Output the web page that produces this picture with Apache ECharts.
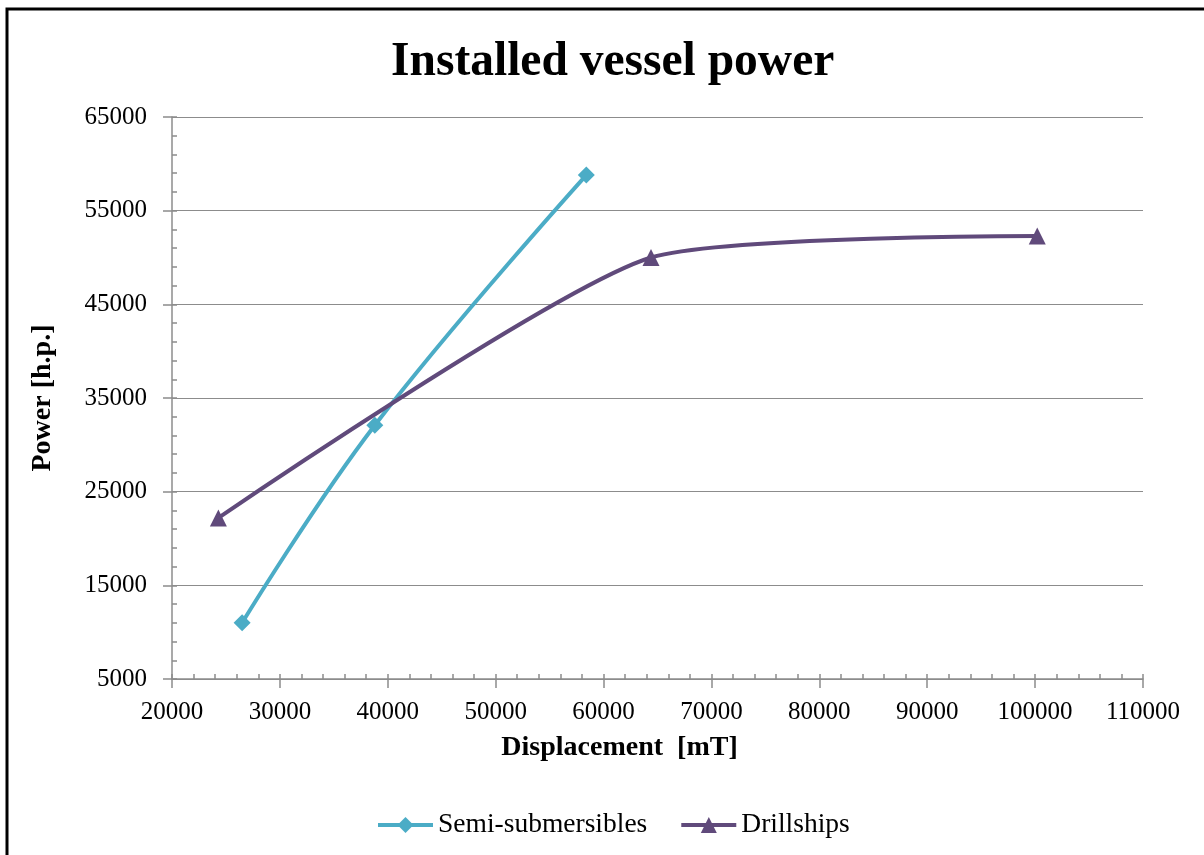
<!DOCTYPE html>
<html>
<head>
<meta charset="utf-8">
<script src="https://cdn.jsdelivr.net/npm/echarts@6/dist/echarts.min.js"></script>
<style>
  html, body { margin: 0; padding: 0; background: #fff; }
  #chart { width: 1204px; height: 855px; }
</style>
</head>
<body>
<div id="chart"></div>
<script>
// Displacement [mT] and installed power [h.p.] for each vessel type
const semiDisplacement = [26500, 38800, 58400];
const semiPower = [11000, 32100, 58800];
const drillDisplacement = [24300, 64400, 100200];
const drillPower = [22200, 50000, 52300];

const xTicks = { min: 20000, max: 110000, step: 10000, minorStep: 2000 };
const yTicks = { min: 5000, max: 65000, step: 10000, minorStep: 2000 };

const pairs = (xs, ys) => xs.map((x, i) => [x, ys[i]]);

const serif = 'Liberation Serif';
const gray = '#8c8c8c';
const plain = v => String(v);

const chart = echarts.init(document.getElementById('chart'));
chart.setOption({
  animation: false,
  backgroundColor: '#fff',
  title: {
    text: 'Installed vessel power',
    left: 386,
    top: 34,
    textStyle: { fontFamily: serif, fontSize: 47.5, fontWeight: 'bold', color: '#000' }
  },
  graphic: [{
    type: 'rect',
    shape: { x: 7, y: 9, width: 1400, height: 1000 },
    style: { fill: 'none', stroke: '#000', lineWidth: 3 },
    silent: true
  }],
  grid: { left: 172, right: 61, top: 117, bottom: 176 },
  legend: {
    bottom: 11,
    left: 371,
    itemWidth: 55,
    itemHeight: 20,
    itemGap: 32,
    lineStyle: { width: 4 },
    textStyle: { fontFamily: serif, fontSize: 27.5, color: '#000' },
    data: ['Semi-submersibles', 'Drillships']
  },
  xAxis: [{
    type: 'value',
    min: xTicks.min, max: xTicks.max, interval: xTicks.step,
    name: 'Displacement  [mT]',
    nameLocation: 'middle',
    nameGap: 55,
    nameTextStyle: { fontFamily: serif, fontSize: 28, fontWeight: 'bold', color: '#000', padding: [0, 76, 0, 0] },
    axisLine: { show: true, lineStyle: { color: gray, width: 1.5 } },
    axisTick: { show: true, inside: false, length: 9, lineStyle: { color: gray, width: 1.5 } },
    axisLabel: { fontFamily: serif, fontSize: 25, color: '#000', margin: 21, formatter: plain },
    splitLine: { show: false }
  }, {
    type: 'value',
    position: 'bottom',
    min: xTicks.min, max: xTicks.max, interval: xTicks.minorStep,
    axisLine: { show: false },
    axisTick: { show: true, inside: true, length: 5, lineStyle: { color: gray, width: 1.5 } },
    axisLabel: { show: false },
    splitLine: { show: false }
  }],
  yAxis: [{
    type: 'value',
    min: yTicks.min, max: yTicks.max, interval: yTicks.step,
    name: 'Power [h.p.]',
    nameLocation: 'middle',
    nameGap: 115,
    nameTextStyle: { fontFamily: serif, fontSize: 28, fontWeight: 'bold', color: '#000' },
    axisLine: { show: true, lineStyle: { color: gray, width: 1.5 } },
    axisTick: { show: true, inside: false, length: 9, lineStyle: { color: gray, width: 1.5 } },
    axisLabel: { fontFamily: serif, fontSize: 25, color: '#000', margin: 25, formatter: plain },
    splitLine: { show: true, lineStyle: { color: gray, width: 1.2 } }
  }, {
    type: 'value',
    position: 'left',
    min: yTicks.min, max: yTicks.max, interval: yTicks.minorStep,
    axisLine: { show: false },
    axisTick: { show: true, inside: true, length: 5, lineStyle: { color: gray, width: 1.5 } },
    axisLabel: { show: false },
    splitLine: { show: false }
  }],
  series: [{
    name: 'Semi-submersibles',
    type: 'line',
    smooth: 0.4,
    data: pairs(semiDisplacement, semiPower),
    symbol: 'diamond',
    symbolSize: 17,
    itemStyle: { color: '#4bacc6' },
    lineStyle: { color: '#4bacc6', width: 4 },
    z: 3
  }, {
    name: 'Drillships',
    type: 'line',
    smooth: 0.2,
    data: pairs(drillDisplacement, drillPower),
    symbol: 'triangle',
    symbolSize: 17,
    itemStyle: { color: '#604a7b' },
    lineStyle: { color: '#604a7b', width: 4 },
    z: 4
  }]
});
</script>
</body>
</html>
